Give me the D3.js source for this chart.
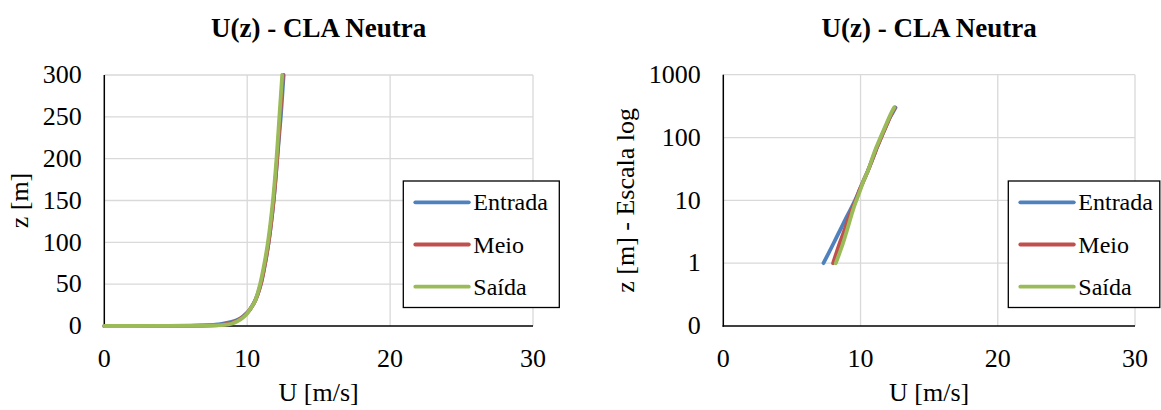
<!DOCTYPE html>
<html>
<head>
<meta charset="utf-8">
<script src="https://cdn.jsdelivr.net/npm/d3@7"></script>
<style>
  body { margin: 0; background: #fff; }
  svg text { font-family: "Liberation Serif", "Times New Roman", "DejaVu Serif", serif; fill: #000; }
  .tick { font-size: 26px; }
  .title { font-size: 27px; font-weight: bold; }
  .alabel { font-size: 26px; }
  .leg { font-size: 24px; }
  .grid { stroke: #d9d9d9; stroke-width: 1.3; }
</style>
</head>
<body>
<svg width="1161" height="410"></svg>
<script>
// heights and wind speeds
var zLevels  = [0, 1, 2, 3, 5, 7, 10, 15, 20, 30, 50, 70, 100, 150, 200, 250, 300]
var uEntrada = [0, 7.3, 8.0, 8.4, 8.9, 9.25, 9.6, 9.95, 10.2, 10.55, 10.95, 11.2, 11.5, 11.85, 12.1, 12.35, 12.55]
var uMeio    = [0, 8.0, 8.45, 8.75, 9.1, 9.35, 9.65, 9.95, 10.2, 10.55, 10.95, 11.2, 11.5, 11.85, 12.1, 12.3, 12.5]
var uSaida   = [0, 8.2, 8.7, 8.95, 9.25, 9.45, 9.7, 10.0, 10.2, 10.55, 10.9, 11.15, 11.45, 11.8, 12.05, 12.25, 12.45]

var seriesNames = ["Entrada", "Meio", "Saída"]
var seriesColors = ["#4f81bd", "#c0504d", "#9bbb59"]

var xTicks = [0, 10, 20, 30]
var yTicksLin = [0, 50, 100, 150, 200, 250, 300]
var yTicksLog = [0.1, 1, 10, 100, 1000]
var yTickLabelsLog = ["0", "1", "10", "100", "1000"]

var serif = "'Liberation Serif', 'Times New Roman', 'DejaVu Serif', serif"

var svg = d3.select("svg")

var series = [uEntrada, uMeio, uSaida].map(function(u, i){
    return { name: seriesNames[i], color: seriesColors[i],
             pts: zLevels.map(function(z, k){ return { z: z, u: u[k] } }) }
})

function drawChart(opt) {
    var g = svg.append("g").attr("font-family", serif)
    var x = d3.scaleLinear().domain([0, 30]).range([opt.left, opt.right])
    var y = opt.log
        ? d3.scaleLog().domain([0.1, 1000]).range([opt.bottom, opt.top])
        : d3.scaleLinear().domain([0, 300]).range([opt.bottom, opt.top])
    var yTicks = opt.log ? yTicksLog : yTicksLin

    // gridlines
    g.selectAll(".hg").data(yTicks.slice(1)).enter().append("line")
        .attr("class", "grid")
        .attr("x1", opt.left).attr("x2", opt.right)
        .attr("y1", d => y(d)).attr("y2", d => y(d))
    g.selectAll(".vg").data(xTicks.slice(1)).enter().append("line")
        .attr("class", "grid")
        .attr("x1", d => x(d)).attr("x2", d => x(d))
        .attr("y1", opt.top).attr("y2", opt.bottom)

    // axis lines
    g.append("line").attr("x1", opt.left).attr("x2", opt.left)
        .attr("y1", opt.top).attr("y2", opt.bottom + 0.75)
        .attr("stroke", "#000").attr("stroke-width", 1.5)
    g.append("line").attr("x1", opt.left - 0.75).attr("x2", opt.right)
        .attr("y1", opt.bottom).attr("y2", opt.bottom)
        .attr("stroke", "#000").attr("stroke-width", 1.5)

    // tick labels
    g.selectAll(".xt").data(xTicks).enter().append("text")
        .attr("class", "tick").attr("text-anchor", "middle")
        .attr("font-family", serif)
        .attr("x", d => x(d)).attr("y", opt.bottom + 41)
        .text(d => d)
    g.selectAll(".yt").data(yTicks).enter().append("text")
        .attr("class", "tick").attr("text-anchor", "end")
        .attr("font-family", serif)
        .attr("x", opt.left - 22.5).attr("y", d => y(d) + 8.3)
        .text((d, i) => opt.log ? yTickLabelsLog[i] : d)

    // titles
    g.append("text").attr("class", "title").attr("text-anchor", "middle")
        .attr("font-family", serif)
        .attr("x", (opt.left + opt.right) / 2).attr("y", 37)
        .text("U(z) - CLA Neutra")
    g.append("text").attr("class", "alabel").attr("text-anchor", "middle")
        .attr("font-family", serif)
        .attr("x", (opt.left + opt.right) / 2).attr("y", 401)
        .text("U [m/s]")
    g.append("text").attr("class", "alabel").attr("text-anchor", "middle")
        .attr("font-family", serif)
        .attr("transform", "translate(" + opt.ylabX + "," + ((opt.top + opt.bottom) / 2) + ") rotate(-90)")
        .text(opt.ylab)

    // lines
    var line = d3.line()
        .x(d => x(d.u)).y(d => y(d.z))
        .curve(d3.curveCatmullRom.alpha(0.5))
    series.forEach(function(s){
        var pts = opt.log ? s.pts.filter(p => p.z > 0) : s.pts
        g.append("path").datum(pts)
            .attr("d", line)
            .attr("fill", "none")
            .attr("stroke", s.color)
            .attr("stroke-width", 3.8)
            .attr("stroke-linecap", "round")
            .attr("stroke-linejoin", "round")
    })

    // legend
    var lg = g.append("g")
    lg.append("rect")
        .attr("x", opt.legX).attr("y", 181)
        .attr("width", opt.legW).attr("height", 126.5)
        .attr("fill", "#fff").attr("stroke", "#000").attr("stroke-width", 1.3)
    series.forEach(function(s, i){
        var cy = 202.3 + i * 42.2
        lg.append("line")
            .attr("x1", opt.legX + 12).attr("x2", opt.legX + 65.5)
            .attr("y1", cy).attr("y2", cy)
            .attr("stroke", s.color).attr("stroke-width", 3.8)
            .attr("stroke-linecap", "round")
        lg.append("text").attr("class", "leg")
            .attr("font-family", serif)
            .attr("x", opt.legX + 70).attr("y", cy + 8)
            .text(s.name)
    })
}

drawChart({ left: 104.3, right: 533, top: 75, bottom: 326, log: false,
            ylab: "z [m]", ylabX: 28, legX: 403.3, legW: 156 })
drawChart({ left: 723.3, right: 1135, top: 74.7, bottom: 326, log: true,
            ylab: "z [m] - Escala log", ylabX: 634, legX: 1008.3, legW: 151.5 })
</script>
</body>
</html>
